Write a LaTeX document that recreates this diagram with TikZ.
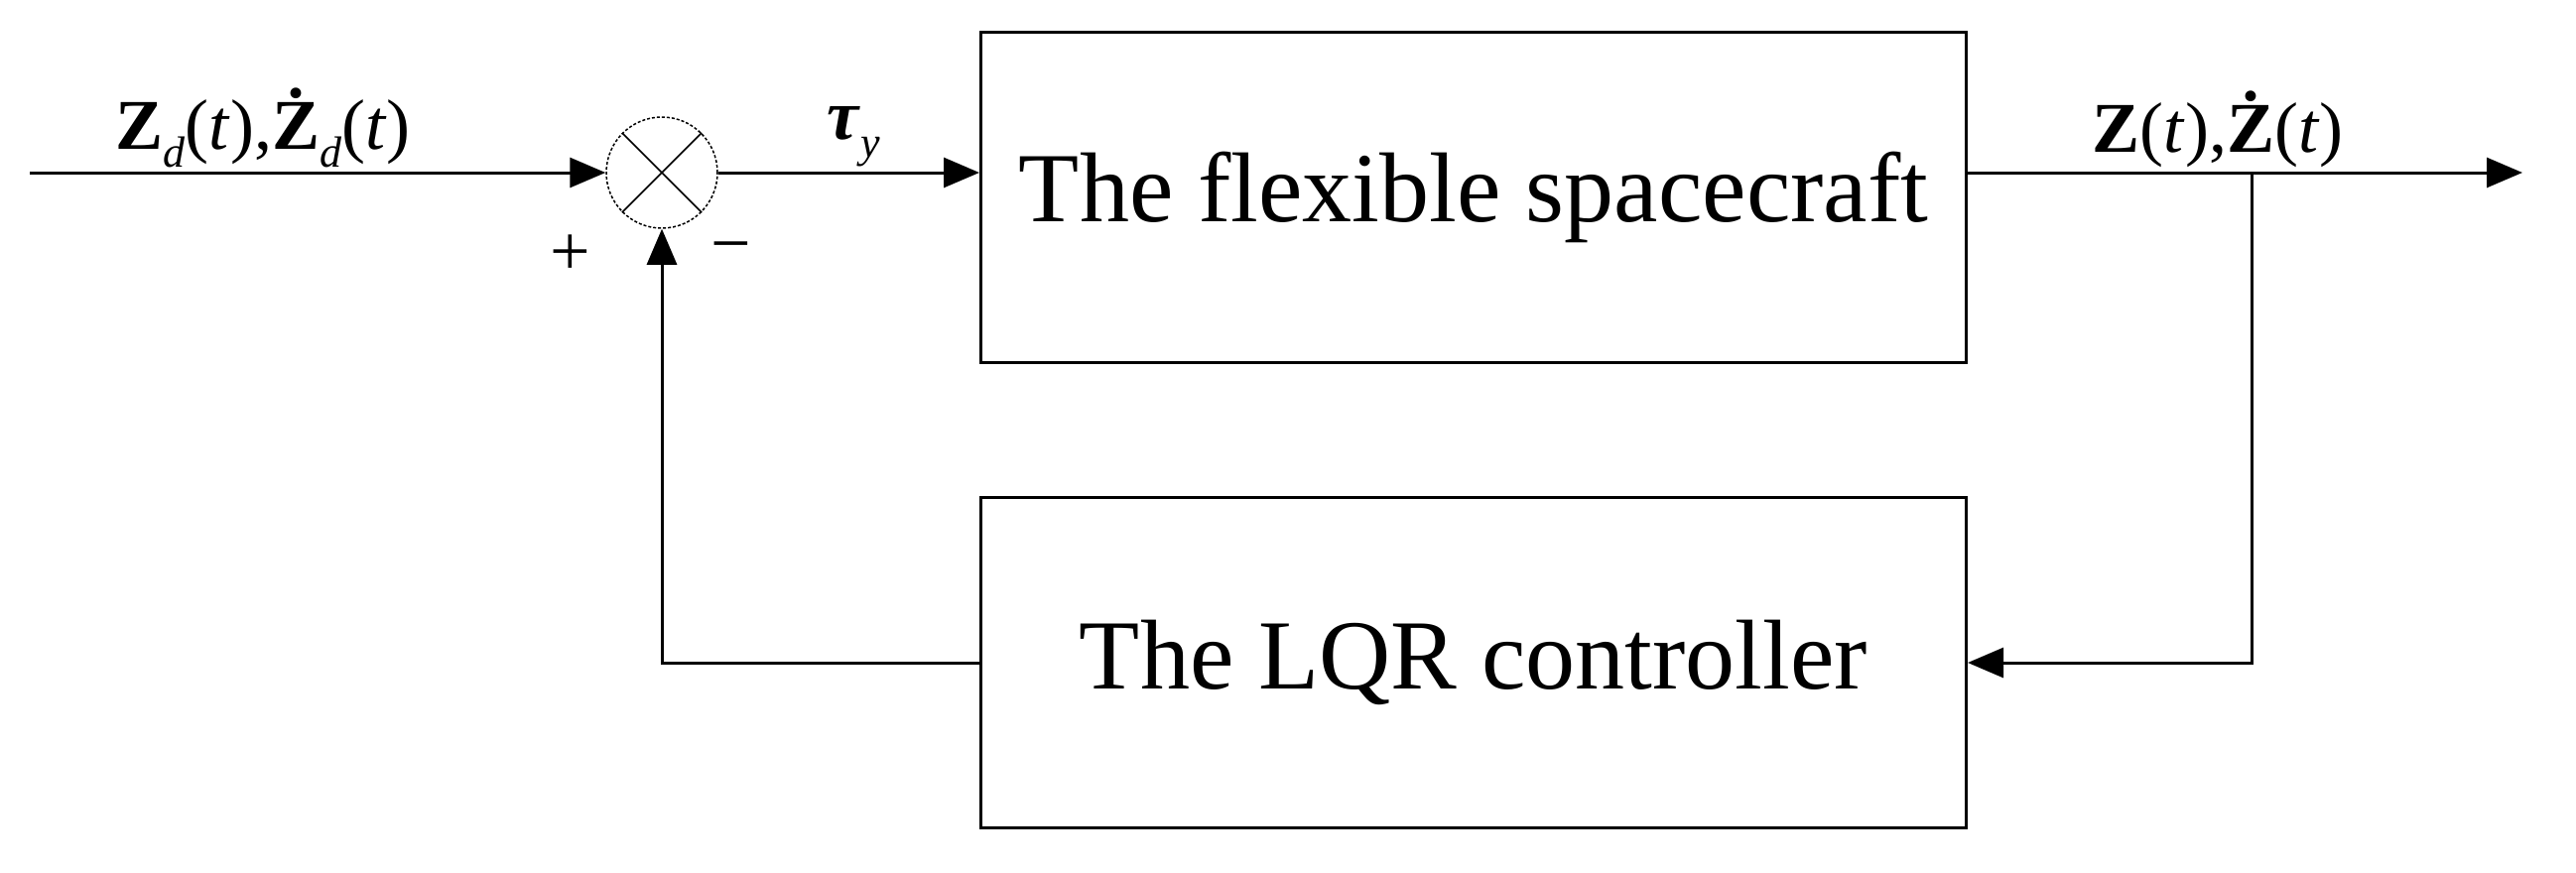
\documentclass[tikz,border=0pt]{standalone}
\usepackage{fontspec}
\setmainfont{Liberation Serif}
\usetikzlibrary{arrows.meta}
\newcommand{\mysub}[1]{\raisebox{-0.25em}{\fontsize{44}{48}\selectfont\textit{#1}}}
\begin{document}
\begin{tikzpicture}[x=1pt,y=-1pt,
  blk/.style={draw,line width=3pt,minimum width=993pt,minimum height=333pt,font=\fontsize{100}{110}\selectfont},
  lab/.style={font=\fontsize{72}{80}\selectfont},
  sig/.style={line width=3pt,-{Triangle[length=36pt,width=30pt]}}]
\useasboundingbox (0,0) rectangle (2596,879);
\node[blk] (sc) at (1485,199) {The flexible spacecraft};
\node[blk] (lqr) at (1485,668) {The LQR controller};
\node[circle,draw,densely dashed,line width=1.5pt,minimum size=112pt,inner sep=0pt] (sum) at (667,174) {};
\draw[line width=1.5pt] (sum.45) -- (sum.225) (sum.135) -- (sum.315);
\coordinate (in) at (30,174);
\coordinate (out) at (2542,174);
\coordinate (br) at (2269,174);
\draw[sig] (in) -- (sum.west);
\draw[sig] (sum.east) -- (sum.east -| sc.west);
\draw[sig] (sc.east |- out) -- (out);
\draw[sig] (br) |- (lqr.east);
\draw[sig] (lqr.west) -| (sum.south);
\node[lab,anchor=south] (l1) at (265,172) {\textbf{Z}\mysub{d}(\textit{t}),\textbf{Ż}\mysub{d}(\textit{t})};
\node[lab,anchor=south] (l2) at (860,172) {\textbf{\textit{τ}}\mysub{y}};
\node[lab,anchor=south] (l3) at (2235,172) {\textbf{Z}(\textit{t}),\textbf{Ż}(\textit{t})};
\node[lab] (pl) at (575,257) {+};
\node[lab] (mi) at (737,257) {−};
\end{tikzpicture}
\end{document}
